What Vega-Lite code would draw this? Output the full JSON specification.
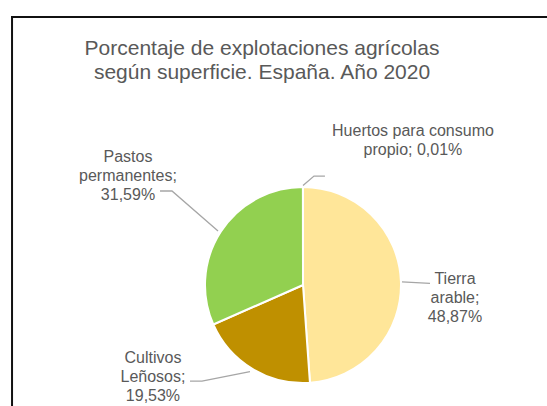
{
  "$schema": "https://vega.github.io/schema/vega-lite/v6.json",
  "width": 547,
  "height": 406,
  "autosize": {"type": "none"},
  "padding": 0,
  "background": "white",
  "config": {"view": {"stroke": null}},
  "title": {
    "text": ["Porcentaje de explotaciones agrícolas", "según superficie. España. Año 2020"],
    "font": "Liberation Sans",
    "fontSize": 21,
    "fontWeight": "normal",
    "color": "#595959",
    "lineHeight": 24,
    "anchor": "middle",
    "frame": "group",
    "offset": -83,
    "dx": -11.5
  },
  "datasets": {
    "slices": [
      {"name": "Tierra arable", "value": 48.87, "idx": 1},
      {"name": "Cultivos Leñosos", "value": 19.53, "idx": 2},
      {"name": "Pastos permanentes", "value": 31.59, "idx": 3},
      {"name": "Huertos para consumo propio", "value": 0.01, "idx": 4}
    ],
    "labels": [
      {"name": "Tierra arable", "text": "Tierra\narable;\n48,87%", "x": 1.551, "y": 0.058},
      {"name": "Cultivos Leñosos", "text": "Cultivos\nLeñosos;\n19,53%", "x": -1.531, "y": -0.748},
      {"name": "Pastos permanentes", "text": "Pastos\npermanentes;\n31,59%", "x": -1.786, "y": 1.306},
      {"name": "Huertos para consumo propio", "text": "Huertos para consumo\npropio; 0,01%", "x": 1.122, "y": 1.574}
    ],
    "leaders": [
      {"id": "Pastos", "seq": 1, "x": -1.459, "y": 0.959},
      {"id": "Pastos", "seq": 2, "x": -1.337, "y": 0.959},
      {"id": "Pastos", "seq": 3, "x": -0.867, "y": 0.551},
      {"id": "Cultivos", "seq": 1, "x": -1.153, "y": -0.98},
      {"id": "Cultivos", "seq": 2, "x": -1.031, "y": -0.98},
      {"id": "Cultivos", "seq": 3, "x": -0.541, "y": -0.883},
      {"id": "Tierra", "seq": 1, "x": 1.01, "y": 0.031},
      {"id": "Tierra", "seq": 2, "x": 1.296, "y": 0.017},
      {"id": "Huertos", "seq": 1, "x": 0.0, "y": 1.015},
      {"id": "Huertos", "seq": 2, "x": 0.112, "y": 1.112},
      {"id": "Huertos", "seq": 3, "x": 0.224, "y": 1.112}
    ]
  },
  "layer": [
    {
      "data": {"name": "slices"},
      "mark": {"type": "arc", "radius": 98, "stroke": "white", "strokeWidth": 2},
      "encoding": {
        "theta": {"field": "value", "type": "quantitative", "stack": true},
        "order": {"field": "idx", "type": "quantitative"},
        "color": {
          "field": "name",
          "type": "nominal",
          "scale": {
            "domain": ["Tierra arable", "Cultivos Leñosos", "Pastos permanentes", "Huertos para consumo propio"],
            "range": ["#FFE699", "#BF9000", "#92D050", "#A9D18E"]
          },
          "legend": null
        },
        "x": {"datum": 0, "type": "quantitative", "scale": {"domain": [-3.0918, 2.4898], "nice": false, "zero": false}, "axis": null},
        "y": {"datum": 0, "type": "quantitative", "scale": {"domain": [-1.2347, 2.9082], "nice": false, "zero": false}, "axis": null}
      }
    },
    {
      "data": {"name": "leaders"},
      "mark": {"type": "line", "color": "#A6A6A6", "strokeWidth": 1.3},
      "encoding": {
        "x": {"field": "x", "type": "quantitative", "scale": {"domain": [-3.0918, 2.4898], "nice": false, "zero": false}, "axis": null},
        "y": {"field": "y", "type": "quantitative", "scale": {"domain": [-1.2347, 2.9082], "nice": false, "zero": false}, "axis": null},
        "detail": {"field": "id", "type": "nominal"},
        "order": {"field": "seq", "type": "quantitative"}
      }
    },
    {
      "data": {"name": "labels"},
      "mark": {"type": "text", "font": "Liberation Sans", "fontSize": 16, "color": "#595959", "align": "center", "baseline": "middle", "lineBreak": "\n", "lineHeight": 19},
      "encoding": {
        "x": {"field": "x", "type": "quantitative", "scale": {"domain": [-3.0918, 2.4898], "nice": false, "zero": false}, "axis": null},
        "y": {"field": "y", "type": "quantitative", "scale": {"domain": [-1.2347, 2.9082], "nice": false, "zero": false}, "axis": null},
        "text": {"field": "text", "type": "nominal"}
      }
    },
    {
      "data": {"values": [{}]},
      "mark": {"type": "rule", "color": "#111111", "strokeWidth": 2, "clip": false},
      "encoding": {
        "x": {"datum": -2.979, "type": "quantitative", "scale": {"domain": [-3.0918, 2.4898], "nice": false, "zero": false}, "axis": null},
        "x2": {"datum": 2.4898},
        "y": {"datum": 2.735, "type": "quantitative", "scale": {"domain": [-1.2347, 2.9082], "nice": false, "zero": false}, "axis": null}
      }
    },
    {
      "data": {"values": [{}]},
      "mark": {"type": "rule", "color": "#111111", "strokeWidth": 2, "clip": false},
      "encoding": {
        "x": {"datum": -2.969, "type": "quantitative", "scale": {"domain": [-3.0918, 2.4898], "nice": false, "zero": false}, "axis": null},
        "y": {"datum": 2.745, "type": "quantitative", "scale": {"domain": [-1.2347, 2.9082], "nice": false, "zero": false}, "axis": null},
        "y2": {"datum": -1.2347}
      }
    }
  ]
}
